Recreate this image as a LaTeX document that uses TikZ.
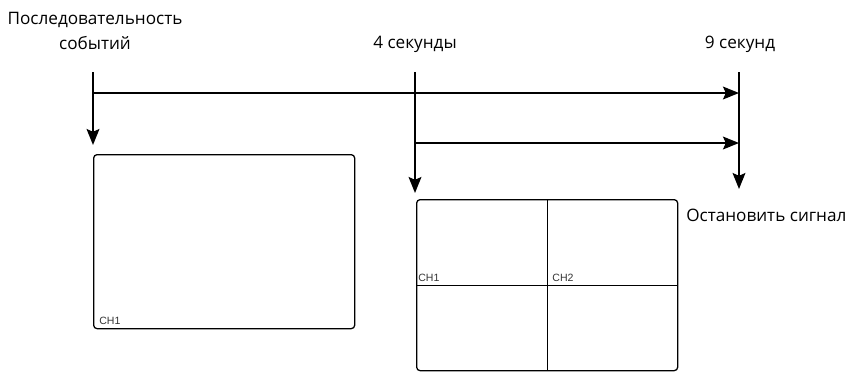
\documentclass[tikz,border=0pt]{standalone}
\usepackage{fontspec}
\setmainfont{Open Sans}
\newfontfamily\chfont{Liberation Sans}
\usetikzlibrary{arrows.meta,positioning,calc}
\tikzset{
  lbl/.style={align=center, inner sep=0pt, font=\fontsize{12.2}{17.8}\selectfont},
  screen/.style={draw, rounded corners=2.5pt, line width=0.9pt, inner sep=0pt},
  chan/.style={anchor=base west, inner sep=0pt, text=black!80, font=\chfont\fontsize{7.5}{8}\selectfont},
  arrow/.style={-{Stealth[length=4mm, width=3.2mm, inset=0.7mm]}, line width=1.3pt},
  divider/.style={line width=0.9pt}
}

\begin{document}
\begin{tikzpicture}[x=0.025cm, y=-0.025cm]
  \useasboundingbox (0,0) rectangle (857,371);

  % labels above the time line
  \node[lbl] (seq) at (95,31) {Последовательность\\событий};
  \node[lbl] (four) at (415,44) {4 секунды};
  \node[lbl] (nine) at (740,44) {9 секунд};

  % screens
  \node[screen, anchor=north west, minimum width=6.525cm, minimum height=4.35cm] (single) at (93,154) {};
  \node[screen, anchor=north west, minimum width=6.525cm, minimum height=4.275cm] (quad) at (416,199) {};
  \draw[divider] (quad.north) -- (quad.south);
  \draw[divider] (quad.west) -- (quad.east);

  \node[chan] (ch1a) at ($(single.south west)+(6,-5)$) {CH1};
  \node[chan] (ch1b) at ($(quad.west)+(2,-4)$) {CH1};
  \node[chan] (ch2b) at ($(quad.center)+(5,-4)$) {CH2};

  \node[lbl, anchor=west] (stop) at (686,215) {Остановить сигнал};

  % time line
  \coordinate (s0) at (93,72);
  \coordinate (s4) at (415,72);
  \coordinate (s9) at (739,72);

  \draw[arrow] (s0) -- ($(single.north west)+(0,-9)$);
  \draw[arrow] (s4) -- ($(quad.north west)+(-1,-6)$);
  \draw[arrow] (s9) -- ($(s9)+(0,117)$);
  \draw[arrow] ($(s0)+(0,21)$) -- ($(s9)+(0,21)$);
  \draw[arrow] ($(s4)+(0,71)$) -- ($(s9)+(0,71)$);
\end{tikzpicture}
\end{document}
